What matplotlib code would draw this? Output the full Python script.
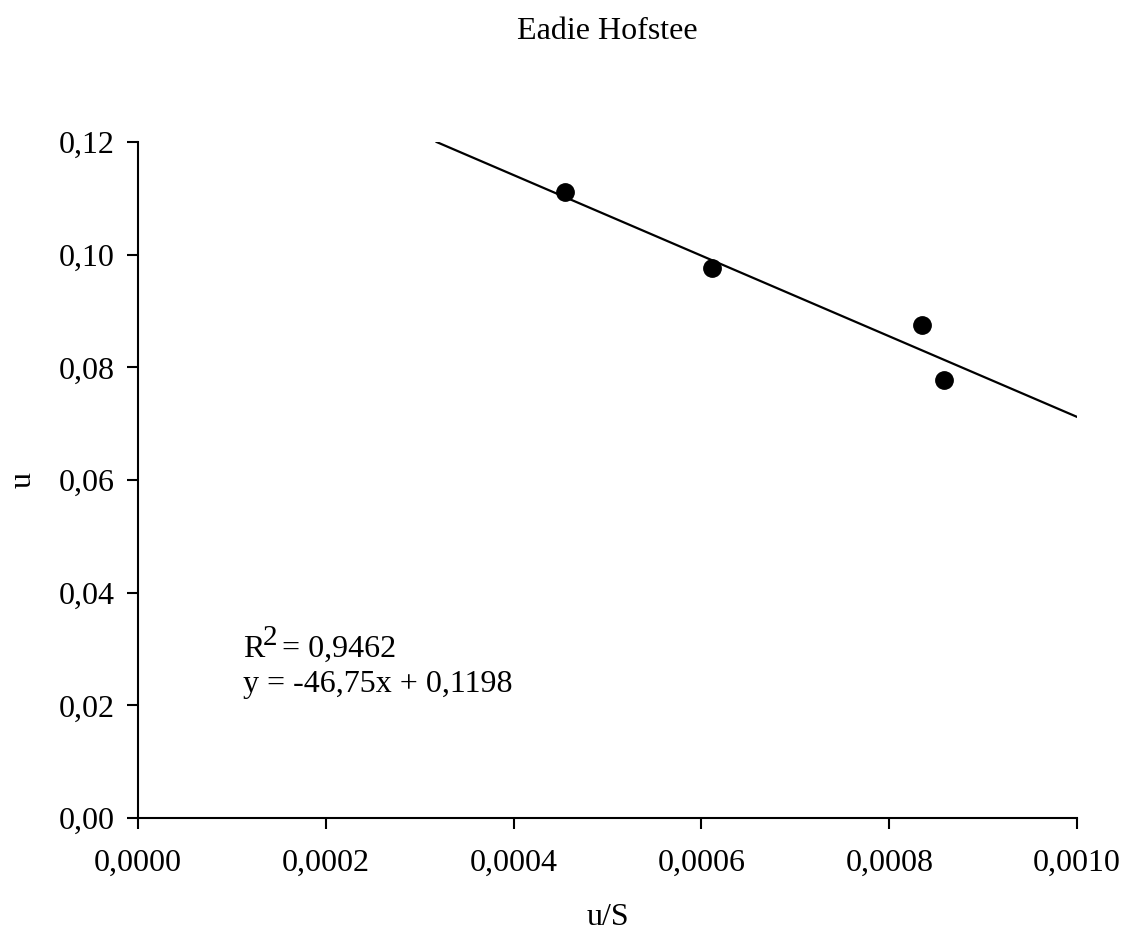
import matplotlib
matplotlib.use("Agg")
import matplotlib.pyplot as plt
from matplotlib.ticker import FuncFormatter

plt.rcParams["font.family"] = ["Liberation Serif", "DejaVu Serif"]

# data
us = [0.000455, 0.000611, 0.000835, 0.000858]
u = [0.1111, 0.0976, 0.0875, 0.0778]
fit_x = [0.000318, 0.0010]
fit_y = [0.1200, 0.0712]
x_ticks = [0.0, 0.0002, 0.0004, 0.0006, 0.0008, 0.0010]
y_ticks = [0.00, 0.02, 0.04, 0.06, 0.08, 0.10, 0.12]

FS = 23

fig = plt.figure(figsize=(11.22, 9.32), dpi=100)
ax = fig.add_axes([0.123, 0.1223, 0.837, 0.7253])

ax.plot(fit_x, fit_y, color="black", lw=1.6)
ax.plot(us, u, "o", color="black", ms=12.5)

ax.set_xlim(0, 0.0010)
ax.set_ylim(0, 0.12)
ax.set_xticks(x_ticks)
ax.set_yticks(y_ticks)
ax.xaxis.set_major_formatter(FuncFormatter(lambda v, p: f"{v:.4f}".replace(".", ",")))
ax.yaxis.set_major_formatter(FuncFormatter(lambda v, p: f"{v:.2f}".replace(".", ",")))
ax.tick_params(direction="out", length=8, width=1.5, labelsize=FS)
ax.tick_params(axis="x", pad=14)
ax.tick_params(axis="y", pad=9)
for s in ["top", "right"]:
    ax.spines[s].set_visible(False)
for s in ["left", "bottom"]:
    ax.spines[s].set_linewidth(1.5)

ax.set_xlabel("u/S", fontsize=FS, labelpad=18)
ax.set_ylabel("u", fontsize=FS, labelpad=15)
fig.text(0.541, 0.966, "Eadie Hofstee", fontsize=FS, ha="center", va="center")

# R^2 annotation: the superscript is nearly full size in the original
fig.text(0.2166, 0.2951, "R", fontsize=FS, ha="left", va="baseline")
fig.text(0.2344, 0.308, "2", fontsize=21, ha="left", va="baseline")
fig.text(0.2513, 0.2951, "= 0,9462", fontsize=FS, ha="left", va="baseline")
fig.text(0.2166, 0.2575, "y = -46,75x + 0,1198", fontsize=FS, ha="left", va="baseline")

fig.savefig("out.png", dpi=100)
